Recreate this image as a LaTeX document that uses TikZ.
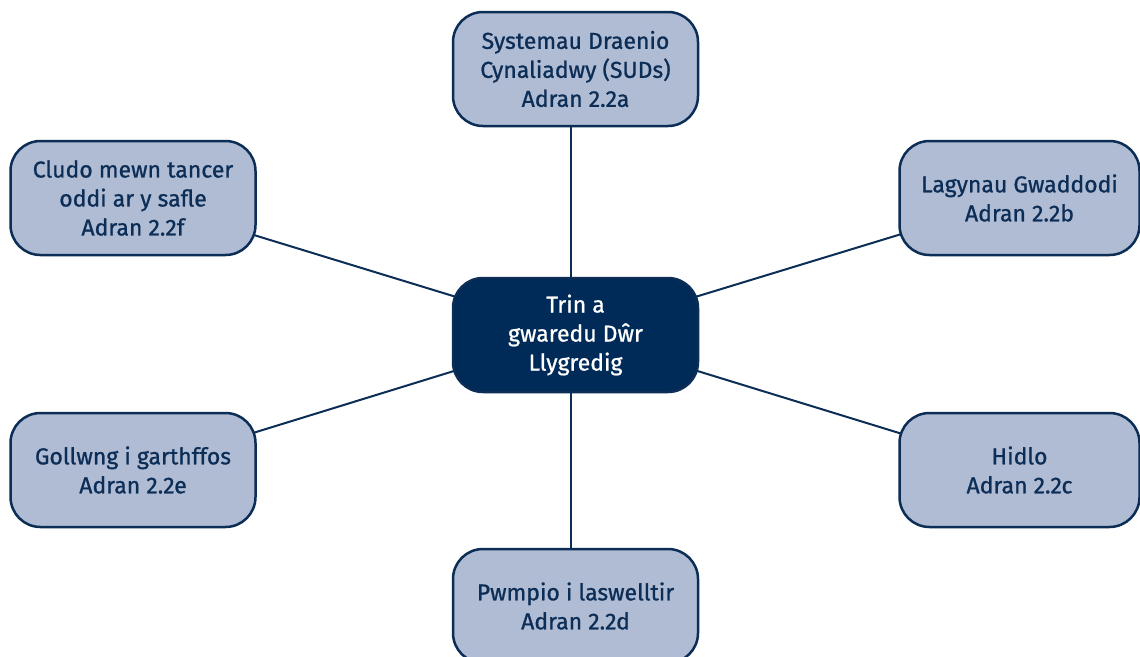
\documentclass[tikz,border=0pt]{standalone}
\usepackage{fontspec}
\setmainfont{Fira Sans}[FakeBold=0.9]
\definecolor{navy}{HTML}{0C2D56}
\definecolor{lightbox}{HTML}{AFBCD3}
\definecolor{darkbox}{HTML}{002A57}
\begin{document}
\begin{tikzpicture}[x=1pt,y=-1pt,
  box/.style={draw=navy, line width=2.5pt, rounded corners=30pt, fill=lightbox,
    minimum width=245pt, minimum height=114pt, align=center, text=navy,
    font=\fontsize{23pt}{29pt}\selectfont, inner sep=0pt},
  centerbox/.style={box, fill=darkbox, text=white},
  link/.style={draw=navy, line width=2pt}]
\useasboundingbox (0,0) rectangle (1140,656);
\fill[white] (0,0) rectangle (1140,656);
\coordinate (cc) at (575.5,333.5);
\coordinate (tc) at (575.5,69);
\coordinate (bc) at (575.5,606);
\coordinate (ltc) at (133,198);
\coordinate (lbc) at (133,470);
\coordinate (rtc) at (1019.5,198);
\coordinate (rbc) at (1019.5,470);
\draw[link] (ltc) -- (cc);
\draw[link] (lbc) -- (cc);
\draw[link] (rtc) -- (cc);
\draw[link] (rbc) -- (cc);
\draw[link] ([xshift=-4.5pt]tc) -- ([xshift=-4.5pt]bc);
\node[centerbox] (c) at ([yshift=-1.5pt]cc) {Trin a\\gwaredu Dŵr\\Llygredig};
\node[box] (t) at (tc) {Systemau Draenio\\Cynaliadwy (SUDs)\\Adran 2.2a};
\node[box] (b) at (bc) {Pwmpio i laswelltir\\Adran 2.2d};
\node[box] (lt) at (ltc) {Cludo mewn tancer\\oddi ar y safle\\Adran 2.2f};
\node[box] (lb) at (lbc) {Gollwng i garthffos\\Adran 2.2e};
\node[box, minimum width=240pt] (rt) at (rtc) {Lagynau Gwaddodi\\Adran 2.2b};
\node[box, minimum width=240pt] (rb) at (rbc) {Hidlo\\Adran 2.2c};
\end{tikzpicture}
\end{document}
